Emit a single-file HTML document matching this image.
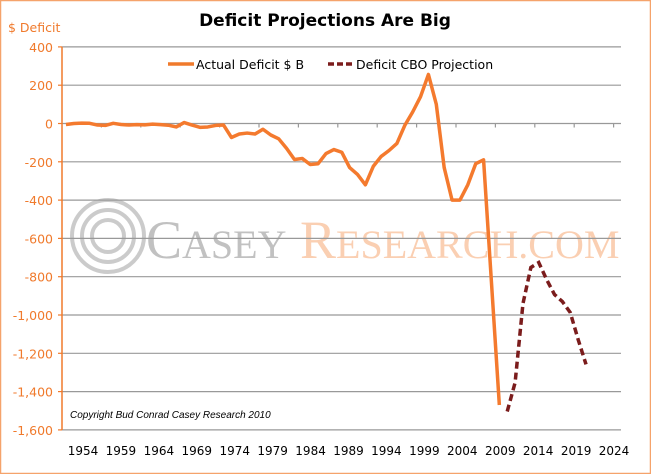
<!DOCTYPE html>
<html><head><meta charset="utf-8"><style>
body{margin:0;background:#fff}
svg{display:block;font-family:"DejaVu Sans","Liberation Sans",sans-serif}
</style></head><body>
<svg width="651" height="474" viewBox="0 0 651 474">
<rect x="0.5" y="0.5" width="650" height="473" fill="#fff" stroke="#f5a36b" stroke-width="1.5"/>
<text x="325" y="26" text-anchor="middle" font-size="17" font-weight="bold" fill="#000">Deficit Projections Are Big</text>
<text x="8" y="32" font-size="12.5" fill="#f07a2c">$ Deficit</text>
<g opacity="0.6">
<circle cx="108" cy="236" r="36" fill="none" stroke="#aaa" stroke-width="4"/>
<circle cx="108" cy="236" r="26" fill="none" stroke="#aaa" stroke-width="4"/>
<circle cx="108" cy="236" r="16" fill="none" stroke="#aaa" stroke-width="4"/>
<text x="146" y="258" font-family="Liberation Serif,serif" font-size="54" fill="#999">C<tspan font-size="40">ASEY</tspan> <tspan fill="#f8b080">R</tspan><tspan font-size="40" fill="#f8b080">ESEARCH.COM</tspan></text>
</g>
<g id="grid"></g>
<g id="plot"></g>
<g>
<line x1="168" y1="64" x2="194" y2="64" stroke="#f07a2c" stroke-width="3.5"/>
<text x="196" y="69" font-size="12.5" fill="#000">Actual Deficit $ B</text>
<line x1="328" y1="64" x2="354" y2="64" stroke="#7b1c1c" stroke-width="3.5" stroke-dasharray="6,3"/>
<text x="356" y="69" font-size="12.5" fill="#000">Deficit CBO Projection</text>
</g>
<text x="70" y="418" font-size="10" font-style="italic" fill="#000" font-family="Liberation Sans,sans-serif">Copyright Bud Conrad  Casey Research 2010</text>
</svg>
<script>
const actualYears=[1954,1955,1956,1957,1958,1959,1960,1961,1962,1963,1964,1965,1966,1967,1968,1969,1970,1971,1972,1973,1974,1975,1976,1977,1978,1979,1980,1981,1982,1983,1984,1985,1986,1987,1988,1989,1990,1991,1992,1993,1994,1995,1996,1997,1998,1999,2000,2001,2002,2003,2004,2005,2006,2007,2008,2009];
const actualValues=[-5,0,2,1,-8,-10,1,-5,-8,-6,-7,-3,-6,-9,-18,5,-8,-20,-18,-10,-8,-73,-55,-50,-55,-30,-60,-80,-130,-188,-183,-214,-210,-157,-136,-150,-230,-266,-320,-224,-172,-141,-104,-10,60,140,256,100,-230,-400,-400,-320,-210,-190,-830,-1470];
const cboYears=[2010,2011,2012,2013,2014,2015,2016,2017,2018,2019,2020];
const cboValues=[-1504,-1353,-940,-752,-726,-815,-893,-930,-987,-1128,-1258];
const yTicks=[400,200,0,-200,-400,-600,-800,-1000,-1200,-1400,-1600];
const yTickLabels=["400","200","0","-200","-400","-600","-800","-1,000","-1,200","-1,400","-1,600"];
const xTickLabels=["1954","1959","1964","1969","1974","1979","1984","1989","1994","1999","2004","2009","2014","2019","2024"];
const NS="http://www.w3.org/2000/svg";
const X0=62,CW=7.88,Y0=123.5,PX=38.3/200;
function xs(yr){return X0+(yr-1954+0.5)*CW;}
function ys(v){return Y0-v*PX;}
function mk(t,a,p){const e=document.createElementNS(NS,t);for(const k in a)e.setAttribute(k,a[k]);p.appendChild(e);return e;}
const grid=document.getElementById('grid'),plot=document.getElementById('plot');
yTicks.forEach((v,i)=>{
 const y=ys(v);
 const g=mk('line',{x1:X0,x2:621,y1:y,y2:y,stroke:'#999','stroke-width':1.2},grid);
 
 
 const tk=mk('line',{x1:X0-4,x2:X0,y1:y,y2:y,stroke:'#f07a2c','stroke-width':1.2},grid);
 
 
 const t=mk('text',{x:53,y:y+5,'text-anchor':'end','font-size':12.5,fill:'#f07a2c'},grid);
 t.textContent=yTickLabels[i];
 
 
});
const ax=mk('line',{x1:X0,x2:X0,y1:ys(400),y2:ys(-1600),stroke:'#f07a2c','stroke-width':1.5},grid);


xTickLabels.forEach((l,i)=>{
 const xt=X0+(i+1)*5*CW;
 if(i<14){const tk=mk('line',{x1:xt,x2:xt,y1:Y0,y2:Y0+4,stroke:'#999','stroke-width':1.2},grid);
 
 }
 const t=mk('text',{x:83+i*37.93,y:455,'text-anchor':'middle','font-size':12,fill:'#000'},grid);
 t.textContent=l;
 
 
});
const pa=mk('polyline',{points:actualYears.map((y,i)=>xs(y)+','+ys(actualValues[i])).join(' '),fill:'none',stroke:'#f47a2e','stroke-width':3.5,'stroke-linejoin':'round'},plot);


const pc=mk('polyline',{points:cboYears.map((y,i)=>xs(y)+','+ys(cboValues[i])).join(' '),fill:'none',stroke:'#7b1c1c','stroke-width':3.5,'stroke-dasharray':'7,4'},plot);


</script>
</body></html>
